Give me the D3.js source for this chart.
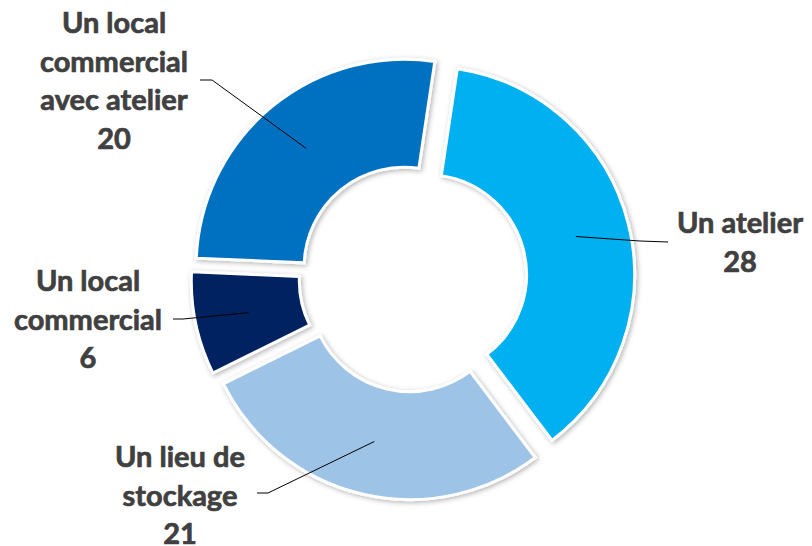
<!DOCTYPE html>
<html>
<head>
<meta charset="utf-8">
<script src="https://cdn.jsdelivr.net/npm/d3@7"></script>
<style>
  body { margin: 0; background: #fff; }
  svg { display: block; }
</style>
</head>
<body>
<script>
// data
var categories = ["Un atelier", "Un lieu de stockage", "Un local commercial", "Un local commercial avec atelier"];
var values = [28, 21, 6, 20];
var labelLines = [["Un atelier", "28"], ["Un lieu de", "stockage", "21"], ["Un local", "commercial", "6"], ["Un local", "commercial", "avec atelier", "20"]];
var colors = ["#00B0F0", "#9DC3E6", "#002060", "#0070C0"];

var width = 812, height = 546;
var cx = 413, cy = 278;
var outerR = 208, innerR = 100, explode = 14;
var lineH = 38.5;

// where each label sits (text centre x, first baseline) and its leader elbow
var labelLayout = [
  {x: 740, y: 233, elbow: [640, 241], end: [668, 242]},
  {x: 180, y: 467, elbow: [268, 493], end: [257, 493]},
  {x: 88, y: 291, elbow: [183, 319], end: [173, 319]},
  {x: 114, y: 33, elbow: [212, 80], end: [200, 80]}
];

var svg = d3.select("body").append("svg")
  .attr("width", width)
  .attr("height", height);

var defs = svg.append("defs");
var f = defs.append("filter").attr("id", "shadow")
  .attr("x", "-20%").attr("y", "-20%").attr("width", "140%").attr("height", "140%");
f.append("feDropShadow")
  .attr("dx", 1.5).attr("dy", 1.5)
  .attr("stdDeviation", 2.5)
  .attr("flood-color", "#000")
  .attr("flood-opacity", 0.3);

var start = 8.5 * Math.PI / 180;
var pie = d3.pie().sort(null).value(function(d) { return d; })
  .startAngle(start).endAngle(start + 2 * Math.PI);
var arcs = pie(values);

var arc = d3.arc().innerRadius(innerR).outerRadius(outerR);
var mid = d3.arc().innerRadius((innerR + outerR) / 2).outerRadius((innerR + outerR) / 2);

function offset(d) {
  var a = (d.startAngle + d.endAngle) / 2;
  return [Math.sin(a) * explode, -Math.cos(a) * explode];
}

var g = svg.append("g").attr("transform", "translate(" + cx + "," + cy + ")");

g.selectAll("path.slice")
  .data(arcs)
  .enter()
  .append("path")
  .attr("class", "slice")
  .attr("transform", function(d) { var o = offset(d); return "translate(" + o[0] + "," + o[1] + ")"; })
  .attr("d", arc)
  .style("fill", function(d, i) { return colors[i]; })
  .style("stroke", "#fff")
  .style("stroke-width", 3)
  .style("stroke-linejoin", "miter")
  .attr("filter", "url(#shadow)");

// leader lines
arcs.forEach(function(d, i) {
  var o = offset(d);
  var c = mid.centroid(d);
  var p0 = [cx + o[0] + c[0], cy + o[1] + c[1]];
  var L = labelLayout[i];
  svg.append("polyline")
    .attr("points", [p0, L.elbow, L.end].map(function(p) { return p.join(","); }).join(" "))
    .style("fill", "none")
    .style("stroke", "#000")
    .style("stroke-width", 1);
});

// labels
labelLines.forEach(function(lines, i) {
  var L = labelLayout[i];
  var t = svg.append("text")
    .attr("text-anchor", "middle")
    .attr("font-family", "Lato, 'Open Sans', sans-serif")
    .attr("font-weight", "700")
    .attr("font-size", "29px")
    .attr("fill", "#404040")
    .attr("stroke", "#404040")
    .attr("stroke-width", 0.7);
  lines.forEach(function(s, j) {
    t.append("tspan")
      .attr("x", L.x)
      .attr("y", L.y + j * lineH)
      .text(s);
  });
});
</script>
</body>
</html>
